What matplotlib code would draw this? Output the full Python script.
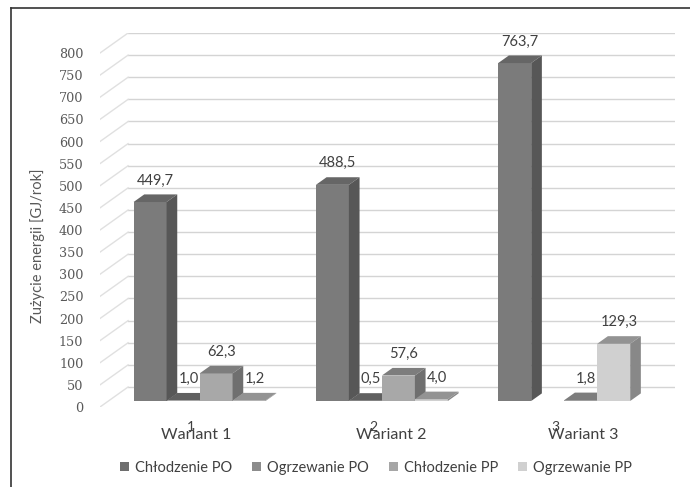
import numpy as np
import matplotlib.pyplot as plt
from matplotlib.patches import Patch, Polygon
from matplotlib.lines import Line2D

# zużycie energii w trzech wariantach [GJ/rok]
warianty = ['1', '2', '3']
nazwy_wariantow = ['Wariant 1', 'Wariant 2', 'Wariant 3']
serie = ['Chłodzenie PO', 'Ogrzewanie PO', 'Chłodzenie PP', 'Ogrzewanie PP']
chlodzenie_po = [449.7, 488.5, 763.7]
ogrzewanie_po = [1.0, 0.5, np.nan]
chlodzenie_pp = [62.3, 57.6, 1.8]
ogrzewanie_pp = [1.2, 4.0, 129.3]
wartosci = [chlodzenie_po, ogrzewanie_po, chlodzenie_pp, ogrzewanie_pp]
yticks = list(range(0, 801, 50))

# kolory: przód, góra, bok, legenda
kolory = [
    ('#7b7b7b', '#666666', '#575757', '#6e6e6e'),
    ('#8c8c8c', '#606060', '#5c5c5c', '#8c8c8c'),
    ('#a8a8a8', '#7d7d7d', '#6f6f6f', '#a6a6a6'),
    ('#d0d0d0', '#939393', '#888888', '#d0d0d0'),
]

# pseudo-3D: przesunięcie głębi w jednostkach danych
DX = 0.154
DY = 45.2
f0, f1 = 0.3, 0.68      # przednia i tylna ściana słupka (ułamek głębi)
w = 0.181               # szerokość słupka

fig = plt.figure(figsize=(6.9, 4.87), dpi=100)
ax = fig.add_axes([100 / 690, 80 / 487, 575 / 690, 374 / 487])
ax.set_xlim(0, 3 + DX)
ax.set_ylim(0, 800 + DY)
for s in ax.spines.values():
    s.set_visible(False)

# ściana tylna i boczna z liniami siatki
for t in yticks:
    ax.plot([DX, 3 + DX], [t + DY, t + DY], color='#d4d4d4', lw=1, zorder=0)
    ax.plot([0, DX], [t, t + DY], color='#e0e0e0', lw=1, zorder=0)

# słupki
for g in range(len(warianty)):
    for s, vals in enumerate(wartosci):
        v = vals[g]
        if np.isnan(v):
            continue
        przod, gora, bok, _ = kolory[s]
        xl = g + 0.5 - 2 * w + s * w
        x0, y0 = xl + f0 * DX, f0 * DY
        x1, y1 = xl + f1 * DX, f1 * DY
        ax.bar(x0, v, width=w, bottom=y0, align='edge', color=przod,
               lw=0, zorder=2)
        ax.add_patch(Polygon([(x0, v + y0), (x0 + w, v + y0),
                              (x1 + w, v + y1), (x1, v + y1)],
                             closed=True, fc=gora, lw=0, zorder=2))
        ax.add_patch(Polygon([(x0 + w, y0), (x1 + w, y1),
                              (x1 + w, v + y1), (x0 + w, v + y0)],
                             closed=True, fc=bok, lw=0, zorder=2))
        ax.annotate(f'{v:.1f}'.replace('.', ','),
                    (xl + w / 2 + (f0 + f1) / 2 * DX, v + y1),
                    xytext=(0, 5), textcoords='offset points',
                    ha='center', va='bottom', fontsize=10.5,
                    family='Lato', color='#404040', zorder=3)

ax.set_yticks(yticks)
ax.set_yticklabels([str(t) for t in yticks], family='DejaVu Serif',
                   fontsize=9.2, color='#595959')
ax.tick_params(axis='y', length=0, pad=12)
ax.set_xticks([g + 0.5 for g in range(len(warianty))])
ax.set_xticklabels(warianty, fontsize=10, family='Lato', color='#404040')
ax.tick_params(axis='x', length=0, pad=10)

ax.set_ylabel('Zużycie energii [GJ/rok]', family='Lato', fontsize=10.5,
              color='#595959')
ax.yaxis.set_label_coords(-55 / 575, 0.43)

# opisy wariantów
for xp, nazwa in zip([0.53, 1.6, 2.65], nazwy_wariantow):
    ax.annotate(nazwa, (xp, 0), xycoords=('data', 'axes fraction'),
                xytext=(0, -20), textcoords='offset points', ha='center',
                va='center', fontsize=11.5, family='Lato', color='#404040')

uchwyty = [Patch(fc=k[3], ec='none') for k in kolory]
fig.legend(uchwyty, serie, loc='center', ncol=4,
           bbox_to_anchor=(376 / 690, 1 - 468 / 487), frameon=False,
           prop={'family': 'Lato', 'size': 10.5}, labelcolor='#404040',
           handlelength=0.6, handleheight=0.6, handletextpad=0.4,
           columnspacing=1.4)

# ramka
fig.add_artist(Line2D([11 / 690, 11 / 690], [0, 1 - 8 / 487],
                      color='#333333', lw=1.2))
fig.add_artist(Line2D([11 / 690, 1], [1 - 8 / 487, 1 - 8 / 487],
                      color='#333333', lw=1.2))

fig.savefig('out.png', dpi=100)
